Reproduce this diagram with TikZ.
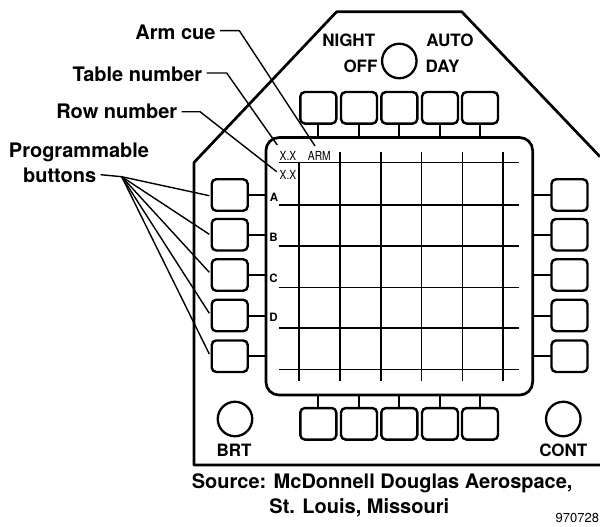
\documentclass[tikz,border=0pt]{standalone}
\usepackage{fontspec}
\setmainfont{TeX Gyre Heros}
\newcommand{\fs}[1]{\fontsize{#1}{#1}\selectfont}
\tikzset{
  thick line/.style={line width=2.7pt,line join=round},
  thin line/.style={line width=1.4pt},
  btn/.style={draw,line width=2.4pt,rounded corners=4.5pt,minimum width=36pt,minimum height=31.5pt,inner sep=0pt,outer sep=0pt},
  stem/.style={line width=2pt},
  knob/.style={draw,circle,line width=2.3pt,minimum size=34.5pt,inner sep=0pt,outer sep=0pt},
  txt/.style={inner sep=0pt,outer sep=0pt,text height=12.2pt,text depth=0pt,font=\fs{17}\bfseries},
  big/.style={inner sep=0pt,outer sep=0pt,text height=14.4pt,text depth=0pt,font=\fs{20}\bfseries},
  lead/.style={big,anchor=east,inner xsep=4.5pt},
  small/.style={inner sep=0pt,outer sep=0pt,text height=8pt,text depth=0pt,font=\fs{11.5}\bfseries},
  thintxt/.style={inner sep=0pt,outer sep=0pt,text height=9pt,text depth=0pt,font=\fs{12.5},xscale=.82},
}
\begin{document}
\begin{tikzpicture}[x=1pt,y=-1pt]
\useasboundingbox (0,0) rectangle (600,527);
\clip (0,0) rectangle (600,527);
% housing
\draw[thick line] (600,156.7) -- (461.7,11.7) -- (336.7,11.7) -- (194,162.5) -- (194,465) -- (600,465);
% screen
\node[draw,line width=2.7pt,rounded corners=13pt,minimum width=266.7pt,minimum height=257.5pt,inner sep=0pt,outer sep=0pt] (scr) at (399.3,266.3) {};
% grid
\foreach \y in {162.3,204.8,246,287.7,328,369.3}
  \draw[thin line] (279,\y) -- (519,\y);
\draw[thin line] (299,162.3) -- (299,380.7);
\foreach \x in {340,381,421.3,462.3,503}
  \draw[thin line] (\x,151.7) -- (\x,380.7);
% top and bottom buttons
\foreach \n/\x in {1/318.3,2/359,3/399.3,4/440,5/480}{
  \node[btn] (t\n) at (\x,107.8) {};
  \draw[stem] (t\n.south) -- (t\n.south |- scr.north);
  \node[btn] (b\n) at (\x,423.8) {};
  \draw[stem] (b\n.north) -- (b\n.north |- scr.south);
}
% side buttons
\foreach \n/\y in {1/195,2/234.7,3/275,4/315.5,5/356.2}{
  \node[btn] (l\n) at (229.7,\y) {};
  \draw[stem] (l\n.east) -- (l\n.east -| scr.west);
  \node[btn] (r\n) at (569.5,\y) {};
  \draw[stem] (r\n.west) -- (r\n.west -| scr.east);
}
% knobs
\node[knob] (k1) at (399.3,61) {};
\node[knob] (k2) at (235,419) {};
\node[knob] (k3) at (563.3,419) {};
% panel text
\node[txt] (night) at (348.7,40.5) {NIGHT};
\node[txt] (off) at (360.5,66.5) {OFF};
\node[txt] (auto) at (450,40.5) {AUTO};
\node[txt,anchor=west] (day) at (425.7,66.5) {DAY};
\node[txt] (brt) at (234,450) {BRT};
\node[txt] (cont) at (563.3,450) {CONT};
\node[small] (a) at (274,197) {A};
\node[small] (b) at (273.5,237.7) {B};
\node[small] (c) at (273.5,278) {C};
\node[small] (d) at (273.5,317.7) {D};
\node[thintxt] (xx1) at (288,155.7) {X.X};
\node[thintxt] (xx2) at (288,175) {X.X};
\node[thintxt] (arm) at (319.3,155.7) {ARM};
% callouts
\node[lead] (armcue) at (220,32.3) {Arm cue};
\node[lead] (table) at (206.7,74.5) {Table number};
\node[lead] (row) at (181.7,111.7) {Row number};
\node[big] (prog) at (79,150.7) {Programmable};
\node[lead] (btns) at (100.7,175.7) {buttons};
\coordinate (c1) at (315,146);
\coordinate (c2) at (277.3,145);
\coordinate (c3) at (276.7,171.7);
\draw[thin line] ([yshift=1.7pt]armcue.east) -- ++(19.3,0) -- (c1);
\draw[thin line] ([yshift=1.5pt]table.east) -- ++(20,0) -- (c2);
\draw[thin line] (row.east) -- ++(18.3,0) -- (c3);
\coordinate (hub) at (121.7,176.7);
\draw[thin line] ([yshift=1pt]btns.east) -- (hub);
\coordinate (p1) at (209.3,195.7);
\coordinate (p2) at (209.3,234.3);
\coordinate (p3) at (209.3,272.3);
\coordinate (p4) at (209.3,313.3);
\coordinate (p5) at (209.3,354);
\foreach \n in {1,...,5} \draw[thin line] (hub) -- (p\n);
% source
\node[big] (src1) at (382.2,481.7) {Source: McDonnell Douglas Aerospace,};
\node[big] (src2) at (359.3,506.7) {St. Louis, Missouri};
\node[inner sep=0pt,outer sep=0pt,text height=9pt,text depth=0pt,font=\fs{13},anchor=west] (num) at (555.7,518) {970728};
\end{tikzpicture}
\end{document}
